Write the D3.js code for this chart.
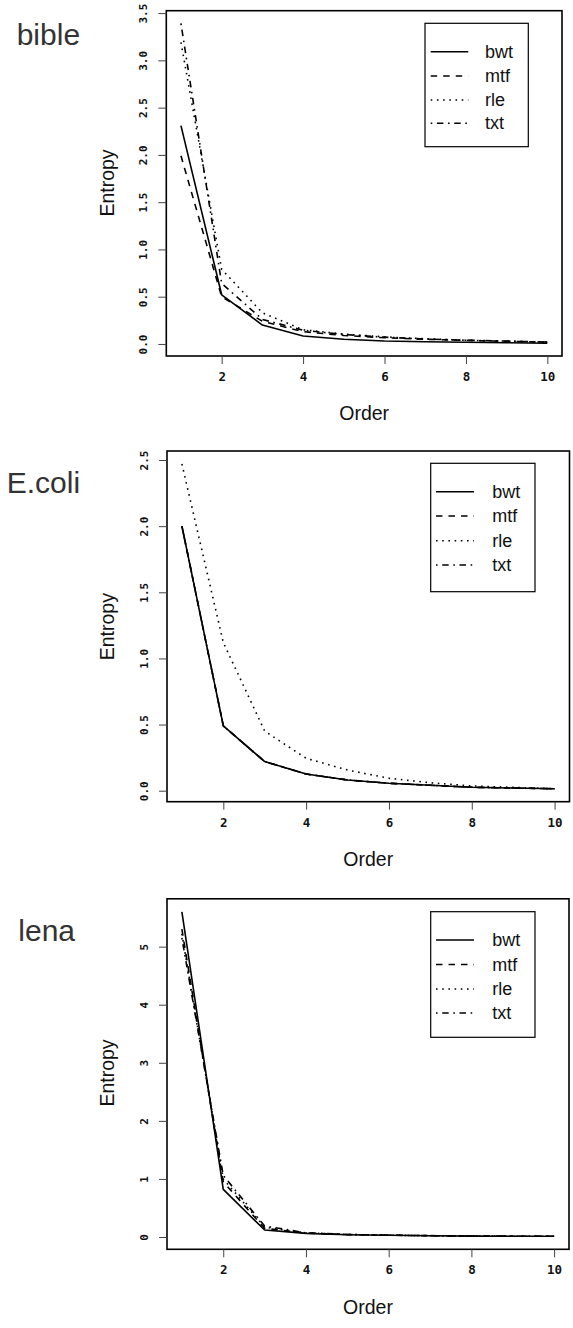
<!DOCTYPE html>
<html><head><meta charset="utf-8">
<script src="https://cdn.jsdelivr.net/npm/d3@7"></script>
<style>
html,body{margin:0;padding:0;background:#fff;}
svg{display:block;font-family:"Liberation Sans",Arial,Helvetica,sans-serif;}
</style></head>
<body>
<svg id="chart" width="573" height="1328"></svg>
<script>
// ---- data ----
const orders = [1,2,3,4,5,6,7,8,9,10];
const seriesNames = ["bwt","mtf","rle","txt"];
const xTicks = [2,4,6,8,10];

const bibleBwt = [2.31,0.52,0.20,0.085,0.050,0.032,0.024,0.018,0.013,0.008];
const bibleMtf = [1.99,0.50,0.24,0.130,0.090,0.065,0.050,0.038,0.028,0.020];
const bibleRle = [3.19,0.79,0.33,0.150,0.105,0.075,0.055,0.040,0.030,0.020];
const bibleTxt = [3.39,0.64,0.26,0.145,0.100,0.072,0.052,0.040,0.030,0.020];
const bibleYTicks = [0,0.5,1,1.5,2,2.5,3,3.5];

const ecoliBwt = [2.00,0.49,0.22,0.126,0.081,0.056,0.041,0.026,0.020,0.015];
const ecoliMtf = [2.00,0.49,0.22,0.126,0.081,0.056,0.041,0.026,0.020,0.015];
const ecoliRle = [2.47,1.12,0.45,0.245,0.156,0.094,0.060,0.036,0.025,0.015];
const ecoliTxt = [2.00,0.49,0.22,0.126,0.081,0.056,0.041,0.026,0.020,0.015];
const ecoliYTicks = [0,0.5,1,1.5,2,2.5];

const lenaBwt = [5.60,0.82,0.12,0.063,0.040,0.030,0.022,0.016,0.013,0.012];
const lenaMtf = [5.30,0.95,0.15,0.068,0.042,0.031,0.023,0.017,0.014,0.012];
const lenaRle = [5.22,1.00,0.17,0.070,0.043,0.032,0.023,0.017,0.014,0.012];
const lenaTxt = [5.15,1.06,0.19,0.072,0.044,0.032,0.024,0.018,0.014,0.012];
const lenaYTicks = [0,1,2,3,4,5];

// ---- layout (positions/styles only) ----
const dashes = {bwt:null, mtf:"6.5,6", rle:"1.6,4.6", txt:"1.6,4.6,6.5,4.6"};
const panels = [
  {title:"bible", series:[bibleBwt,bibleMtf,bibleRle,bibleTxt], yTicks:bibleYTicks, fmt:d3.format(".1f"),
   left:166.3,right:562,top:10.7,bottom:356, titleX:16.7,titleY:45,
   leg:{x0:425,x1:528.3,y0:23.3,y1:146.7,rows:[51.7,76,100,123.3],s0:430.7,s1:468.3,tx:485},
   entY:183, orderY:413},
  {title:"E.coli", series:[ecoliBwt,ecoliMtf,ecoliRle,ecoliTxt], yTicks:ecoliYTicks, fmt:d3.format(".1f"),
   left:167,right:569.5,top:451,bottom:801.7, titleX:6.7,titleY:493.3,
   leg:{x0:430.7,x1:535,y0:463.3,y1:591.7,rows:[491.7,516,540.7,565],s0:436,s1:474,tx:492.3},
   entY:626.7, orderY:859},
  {title:"lena", series:[lenaBwt,lenaMtf,lenaRle,lenaTxt], yTicks:lenaYTicks, fmt:d3.format("d"),
   left:167,right:569,top:898.8,bottom:1249.3, titleX:18.3,titleY:941,
   leg:{x0:430.7,x1:535,y0:911.7,y1:1037.3,rows:[940,964.5,989,1013],s0:436,s1:474,tx:492.3},
   entY:1073, orderY:1307}
];

const svg = d3.select("#chart");

panels.forEach(p => {
  const g = svg.append("g");
  const xs = d3.scaleLinear().domain([1 - 0.04*9, 10 + 0.04*9]).range([p.left, p.right]);
  const all = p.series.flat();
  const lo = d3.min(all), hi = d3.max(all), r = hi - lo;
  const ys = d3.scaleLinear().domain([lo - 0.04*r, hi + 0.04*r]).range([p.bottom, p.top]);

  // lines
  const line = d3.line().x((d,i)=>xs(orders[i])).y(d=>ys(d));
  p.series.forEach((s,k)=>{
    g.append("path").datum(s).attr("d", line)
      .attr("fill","none").attr("stroke","#000").attr("stroke-width",1.6)
      .attr("stroke-linejoin","round")
      .attr("stroke-dasharray", dashes[seriesNames[k]]);
  });

  // box
  g.append("rect").attr("x",p.left).attr("y",p.top)
    .attr("width",p.right-p.left).attr("height",p.bottom-p.top)
    .attr("fill","none").attr("stroke","#000").attr("stroke-width",1.6);

  // x axis
  const xa = g.append("g").attr("transform",`translate(0,${p.bottom})`)
    .call(d3.axisBottom(xs).tickValues(xTicks).tickSize(8).tickPadding(8).tickFormat(d3.format("d")));
  xa.select(".domain").remove();
  xa.selectAll(".tick line").attr("stroke","#444");
  xa.selectAll("text").attr("font-size",12.5).attr("fill","#111").attr("font-weight","bold")
    .attr("font-family","'DejaVu Sans Mono',monospace");

  // y axis
  const ya = g.append("g").attr("transform",`translate(${p.left},0)`)
    .call(d3.axisLeft(ys).tickValues(p.yTicks).tickSize(8).tickFormat(p.fmt));
  ya.select(".domain").remove();
  ya.selectAll(".tick line").attr("stroke","#444");
  ya.selectAll("text").attr("x",null).attr("dy",null)
    .attr("transform","translate(-23,0) rotate(-90)")
    .attr("text-anchor","middle").attr("dominant-baseline","central")
    .attr("font-size",11).attr("fill","#111").attr("font-weight","bold")
    .attr("font-family","'DejaVu Sans Mono',monospace");

  // axis titles
  g.append("text").attr("transform",`translate(106.7,${p.entY}) rotate(-90)`)
    .attr("text-anchor","middle").attr("dominant-baseline","central")
    .attr("font-size",19.5).attr("fill","#111").text("Entropy");
  g.append("text").attr("x",(p.left+p.right)/2).attr("y",p.orderY)
    .attr("text-anchor","middle").attr("dominant-baseline","central")
    .attr("font-size",19.5).attr("fill","#111").text("Order");

  // panel title
  g.append("text").attr("x",p.titleX).attr("y",p.titleY)
    .attr("font-size",30).attr("fill","#333").text(p.title);

  // legend
  const L = p.leg;
  g.append("rect").attr("x",L.x0).attr("y",L.y0).attr("width",L.x1-L.x0).attr("height",L.y1-L.y0)
    .attr("fill","#fff").attr("stroke","#000").attr("stroke-width",1.2);
  seriesNames.forEach((n,k)=>{
    g.append("line").attr("x1",L.s0).attr("x2",L.s1).attr("y1",L.rows[k]).attr("y2",L.rows[k])
      .attr("stroke","#000").attr("stroke-width",1.4).attr("stroke-dasharray",dashes[n]);
    g.append("text").attr("x",L.tx).attr("y",L.rows[k]).attr("dominant-baseline","central")
      .attr("font-size",18).attr("fill","#111").text(n);
  });
});
</script>
</body></html>
